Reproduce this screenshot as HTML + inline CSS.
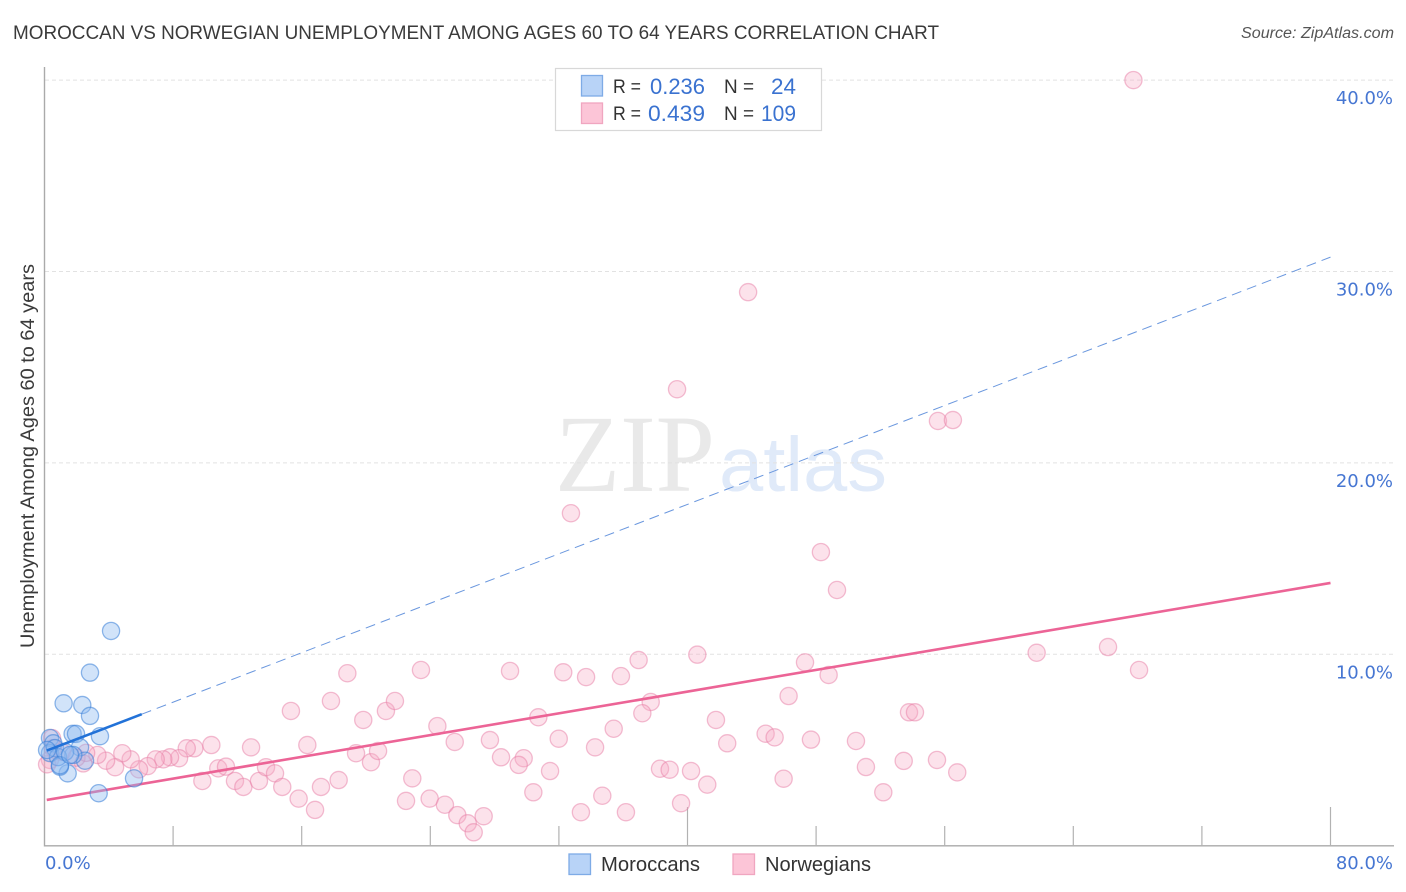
<!DOCTYPE html>
<html lang="en">
<head>
<meta charset="utf-8">
<title>Moroccan vs Norwegian Unemployment Among Ages 60 to 64 Years Correlation Chart</title>
<style>
html,body{margin:0;padding:0;background:#fff;width:1406px;height:892px;overflow:hidden}
svg{display:block}
text{font-family:"Liberation Sans",sans-serif}
.tick{font-family:"DejaVu Sans",sans-serif;font-size:18px;fill:#4676d2}
</style>
</head>
<body>
<svg id="chart" xmlns="http://www.w3.org/2000/svg" width="1406" height="892" viewBox="0 0 1406 892">
  <text x="13" y="39" font-size="19.5" fill="#3a3a3a" textLength="926" lengthAdjust="spacingAndGlyphs">MOROCCAN VS NORWEGIAN UNEMPLOYMENT AMONG AGES 60 TO 64 YEARS CORRELATION CHART</text>
  <text x="1394" y="38" font-size="15.5" font-style="italic" fill="#555" text-anchor="end" textLength="153" lengthAdjust="spacingAndGlyphs">Source: ZipAtlas.com</text>
  <text x="555" y="491" font-size="110" fill="#e9e9e9" textLength="160" lengthAdjust="spacingAndGlyphs" style="font-family:'Liberation Serif',serif">ZIP</text>
  <text x="719" y="491" font-size="77" fill="#e0eaf9" textLength="168" lengthAdjust="spacingAndGlyphs">atlas</text>
  <g id="grid"></g>
  <g id="axes"></g>
  <g id="marks"></g>
  <text transform="translate(34,648) rotate(-90)" font-size="19" fill="#3a3a3a" textLength="384" lengthAdjust="spacingAndGlyphs">Unemployment Among Ages 60 to 64 years</text>
  <g>
    <rect x="555.5" y="68.5" width="266" height="62" fill="#fff" stroke="#d8d8d8" stroke-width="1.2"/>
    <rect x="581.5" y="75.5" width="21" height="20.5" fill="#b8d3f7" stroke="#7eabe6" stroke-width="1.3"/>
    <rect x="581.5" y="103" width="21" height="20.5" fill="#fcc5d7" stroke="#f0a6c0" stroke-width="1.3"/>
    <text x="613" y="93" font-size="19.5" fill="#333" textLength="28" lengthAdjust="spacingAndGlyphs">R =</text>
    <text x="650" y="94" font-size="22" fill="#3a72d0" textLength="55" lengthAdjust="spacingAndGlyphs">0.236</text>
    <text x="724" y="93" font-size="19.5" fill="#333" textLength="30" lengthAdjust="spacingAndGlyphs">N =</text>
    <text x="771" y="94" font-size="22" fill="#3a72d0" textLength="25" lengthAdjust="spacingAndGlyphs">24</text>
    <text x="613" y="120" font-size="19.5" fill="#333" textLength="28" lengthAdjust="spacingAndGlyphs">R =</text>
    <text x="648" y="121" font-size="22" fill="#3a72d0" textLength="57" lengthAdjust="spacingAndGlyphs">0.439</text>
    <text x="724" y="120" font-size="19.5" fill="#333" textLength="30" lengthAdjust="spacingAndGlyphs">N =</text>
    <text x="761" y="121" font-size="22" fill="#3a72d0" textLength="35" lengthAdjust="spacingAndGlyphs">109</text>
  </g>
  <g>
    <rect x="569" y="854" width="21.5" height="20.5" fill="#b8d3f7" stroke="#7eabe6" stroke-width="1.3"/>
    <text x="601" y="871" font-size="20" fill="#333" textLength="99" lengthAdjust="spacingAndGlyphs">Moroccans</text>
    <rect x="733" y="854" width="21.5" height="20.5" fill="#fcc5d7" stroke="#f0a6c0" stroke-width="1.3"/>
    <text x="765" y="871" font-size="20" fill="#333" textLength="106" lengthAdjust="spacingAndGlyphs">Norwegians</text>
  </g>
</svg>
<script>
const xTickValues = [0, 8, 16, 24, 32, 40, 48, 56, 64, 72, 80];
const xMajorTicks = [40, 80];
const xTickLabels = ["0.0%", "80.0%"];
const xTickLabelValues = [0, 80];
const yTickValues = [10, 20, 30, 40];
const yTickLabels = ["10.0%", "20.0%", "30.0%", "40.0%"];

const moroccanX = [2.83,1.19,2.35,2.83,3.45,1.75,1.96,3.37,5.57,4.14,1.44,2.21,2.52,0.96,1.79,0.34,0.55,0.34,0.65,0.84,1.28,0.96,1.59,0.16];
const moroccanY = [9.04,7.44,7.35,6.78,5.72,5.84,5.84,2.74,3.52,11.22,3.78,5.14,4.44,4.13,4.74,5.63,5.35,4.84,5.10,4.63,4.90,4.20,4.74,5.00];

const norwegianX = [18.84,17.82,15.33,19.83,21.24,21.80,12.85,16.35,10.38,9.32,8.85,8.37,7.81,7.39,6.92,6.42,5.88,5.36,4.84,4.39,3.83,3.29,2.41,19.38,20.31,20.75,9.82,10.81,11.29,11.85,12.37,13.34,13.78,14.34,14.79,15.81,16.83,17.20,18.30,
23.42,28.96,32.27,33.69,35.86,36.96,40.61,37.71,37.19,30.72,24.44,25.52,27.71,31.99,35.41,34.25,28.40,29.81,29.50,31.45,22.88,22.49,23.96,24.91,25.68,26.33,26.70,27.32,30.41,33.37,34.70,36.17,39.60,38.29,38.89,40.22,41.23,
47.31,48.78,46.29,41.77,42.47,44.86,45.42,47.68,50.48,45.98,51.10,53.45,55.52,56.78,52.18,53.78,54.15,61.72,
67.74,43.77,39.35,55.58,56.51,32.75,48.30,49.30,66.16,68.09,
0.47,0.34,1.08,0.53,1.99,2.59,0.16];
const norwegianY = [9.01,7.56,7.04,6.57,7.04,7.56,5.14,5.26,5.26,5.09,5.09,4.57,4.62,4.51,4.51,4.16,3.99,4.51,4.83,4.10,4.44,4.74,4.30,4.83,4.36,4.95,3.38,4.04,4.13,3.38,3.07,3.38,4.10,3.78,3.07,2.46,1.87,3.07,3.43,
9.18,9.13,9.06,8.81,8.86,9.70,9.98,7.51,6.92,6.71,6.25,5.42,5.52,5.59,6.11,5.14,4.62,4.57,4.22,3.90,3.52,2.34,2.46,2.14,1.60,1.17,0.70,1.54,2.79,1.75,2.61,1.75,2.22,4.02,3.97,3.90,3.19,
9.58,8.92,7.82,6.57,5.35,5.85,5.66,5.54,5.47,3.50,4.11,4.43,4.48,3.83,2.79,6.97,6.97,10.08,
40.00,28.92,23.85,22.19,22.24,17.37,15.34,13.36,10.38,9.18,
5.62,4.48,4.90,5.10,4.60,4.85,4.25];

const moroccanTrendStart = [0.14, 4.97];
const moroccanTrendSolidEnd = [6.05, 6.87];
const moroccanTrendEnd = [80, 30.75];
const norwegianTrendStart = [0.14, 2.39];
const norwegianTrendEnd = [80, 13.73];

const SVG_NS = "http://www.w3.org/2000/svg";
const xScale = function (v) { return 44.5 + v * 16.075; };
const yScale = function (v) { return 845.7 - v * 19.14; };

function make(tag, attrs, parent) {
  const el = document.createElementNS(SVG_NS, tag);
  Object.keys(attrs).forEach(function (k) { el.setAttribute(k, attrs[k]); });
  parent.appendChild(el);
  return el;
}

const grid = document.getElementById("grid");
const axes = document.getElementById("axes");
const marks = document.getElementById("marks");

yTickValues.forEach(function (v, i) {
  const line = make("line", {x1: 45, x2: 1394, y1: yScale(v), y2: yScale(v), stroke: "#e2e2e2", "stroke-width": 1, "stroke-dasharray": "4 3"}, grid);
  
  
  const label = make("text", {x: 1393, y: yScale(v) + 24, "text-anchor": "end", "class": "tick"}, axes);
  label.textContent = yTickLabels[i];
  
  
});

const yAxis = make("line", {x1: 44.5, x2: 44.5, y1: 67, y2: 846.5, stroke: "#aaa", "stroke-width": 1.4}, axes);


const xAxis = make("line", {x1: 44, x2: 1394, y1: 845.8, y2: 845.8, stroke: "#aaa", "stroke-width": 1.4}, axes);



xTickValues.forEach(function (v) {
  if (v === 0) return;
  const len = xMajorTicks.indexOf(v) >= 0 ? 39 : 20;
  const tick = make("line", {x1: xScale(v), x2: xScale(v), y1: 846 - len, y2: 846, stroke: "#b2b2b2", "stroke-width": 1.2}, axes);
  
  
});

xTickLabelValues.forEach(function (v, i) {
  const label = make("text", {x: v === 0 ? 45 : 1393, y: 869, "text-anchor": v === 0 ? "start" : "end", "class": "tick"}, axes);
  label.textContent = xTickLabels[i];
  
  
});

norwegianX.forEach(function (v, i) {
  const dot = make("circle", {cx: xScale(v), cy: yScale(norwegianY[i]), r: 8.6, fill: "rgba(247,170,196,0.34)", stroke: "rgba(232,125,165,0.5)", "stroke-width": 1.3}, marks);
  
  
});

const norwegianTrend = make("line", {x1: xScale(norwegianTrendStart[0]), y1: yScale(norwegianTrendStart[1]), x2: xScale(norwegianTrendEnd[0]), y2: yScale(norwegianTrendEnd[1]), stroke: "#ec6496", "stroke-width": 2.6}, marks);



moroccanX.forEach(function (v, i) {
  const dot = make("circle", {cx: xScale(v), cy: yScale(moroccanY[i]), r: 8.6, fill: "rgba(140,184,240,0.4)", stroke: "rgba(55,125,215,0.55)", "stroke-width": 1.3}, marks);
  
  
});

const moroccanDashed = make("line", {x1: xScale(moroccanTrendSolidEnd[0]), y1: yScale(moroccanTrendSolidEnd[1]), x2: xScale(moroccanTrendEnd[0]), y2: yScale(moroccanTrendEnd[1]), stroke: "#6a97de", "stroke-width": 1, "stroke-dasharray": "10 6"}, marks);



const moroccanSolid = make("line", {x1: xScale(moroccanTrendStart[0]), y1: yScale(moroccanTrendStart[1]), x2: xScale(moroccanTrendSolidEnd[0]), y2: yScale(moroccanTrendSolidEnd[1]), stroke: "#2272d8", "stroke-width": 2.6}, marks);


</script>
</body>
</html>
